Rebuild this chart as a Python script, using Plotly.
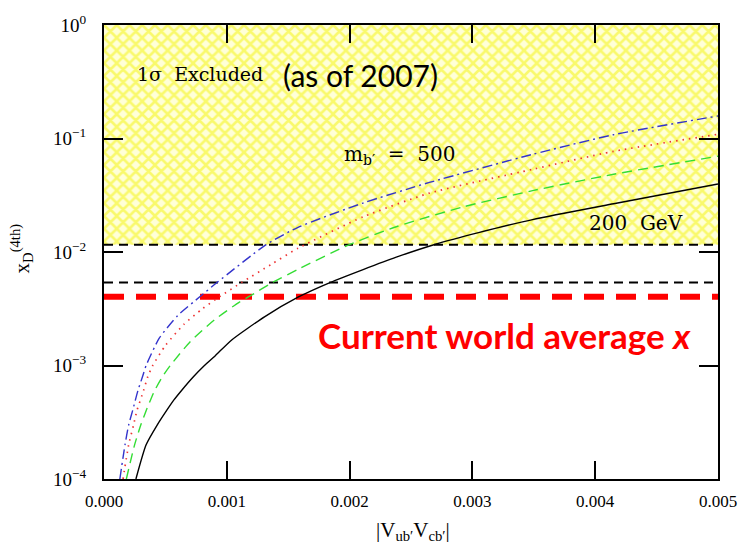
import math
import plotly.graph_objects as go

# |V_ub' V_cb'| values and x_D^(4th) for the four b' masses
x_200 = [0.00026, 0.000343, 0.000434, 0.000509, 0.000571, 0.00063, 0.00073, 0.000818, 0.000906,
         0.00104, 0.00131, 0.00158, 0.00184, 0.00211, 0.00238, 0.0027, 0.00305, 0.00349,
         0.00415, 0.005]
y_200 = [1.0e-4, 2.0e-4, 3.0e-4, 4.0e-4, 5.0e-4, 6.0e-4, 8.0e-4, 1.0e-3, 1.22e-3,
         1.68e-3, 2.7e-3, 4.0e-3, 5.38e-3, 7.0e-3, 9.0e-3, 0.0117, 0.0148, 0.0193,
         0.0266, 0.0397]

x_300 = [0.000182, 0.000249, 0.0003, 0.000343, 0.00038, 0.000412, 0.000477, 0.00054, 0.0007,
         0.0009, 0.0011, 0.00119, 0.00136, 0.00158, 0.00198, 0.00238, 0.00292, 0.00349,
         0.00415, 0.005]
y_300 = [1.0e-4, 2.0e-4, 3.0e-4, 4.0e-4, 5.0e-4, 6.0e-4, 8.0e-4, 1.0e-3, 1.61e-3,
         2.53e-3, 3.6e-3, 4.1e-3, 5.3e-3, 7.03e-3, 0.0114, 0.0167, 0.0249, 0.0347,
         0.0484, 0.0698]

x_400 = [0.000155, 0.000201, 0.000241, 0.000268, 0.000322, 0.000357, 0.000397, 0.0005, 0.00065,
         0.0008, 0.00095, 0.00112, 0.00136, 0.00158, 0.00211, 0.00265, 0.00349, 0.00415, 0.005]
y_400 = [1.0e-4, 2.0e-4, 3.0e-4, 4.0e-4, 6.0e-4, 8.0e-4, 1.0e-3, 1.5e-3, 2.3e-3,
         3.15e-3, 4.1e-3, 5.38e-3, 7.76e-3, 0.0108, 0.0204, 0.0330, 0.0535, 0.077, 0.109]

x_500 = [0.000129, 0.000171, 0.000201, 0.000233, 0.000276, 0.000314, 0.000343, 0.00045, 0.0006,
         0.00078, 0.00092, 0.00132, 0.00158, 0.00211, 0.00265, 0.00349, 0.00415, 0.005]
y_500 = [1.0e-4, 2.0e-4, 3.0e-4, 4.0e-4, 6.0e-4, 8.0e-4, 1.0e-3, 1.74e-3, 2.75e-3,
         4.03e-3, 5.38e-3, 0.0116, 0.0165, 0.027, 0.041, 0.0725, 0.108, 0.158]

# 1 sigma excluded band and reference levels
excluded_lo = 0.0116
excluded_hi = 1.0
x_range = [0.0, 0.005]
y_log_range = [-4, 0]
bound_2007 = 0.00538
world_avg = 0.00403

x_tickvals = [0.0, 0.001, 0.002, 0.003, 0.004, 0.005]
x_ticktext = ["0.000", "0.001", "0.002", "0.003", "0.004", "0.005"]
x_minor = [i * 0.0002 for i in range(26) if i % 5]
y_decades = [-4, -3, -2, -1, 0]
y_tickvals = [10.0 ** d for d in y_decades]
y_ticktext = ["10<sup>\u22124</sup>", "10<sup>\u22123</sup>", "10<sup>\u22122</sup>",
              "10<sup>\u22121</sup>", "10<sup>0</sup>"]
# minor ticks at 2..9 within each decade
y_minor = [m * 10.0 ** d for d in y_decades[:-1] for m in range(2, 10)]

SERIF = "Liberation Serif"
SERIF_WIDE = "DejaVu Serif"
SANS = "Lato"

W, H = 749, 548
MARGIN = dict(l=104, r=22, t=18, b=69)

fig = go.Figure()

# hatched exclusion region
fig.add_trace(go.Scatter(
    x=[x_range[0], x_range[1], x_range[1], x_range[0], x_range[0]],
    y=[excluded_lo, excluded_lo, excluded_hi, excluded_hi, excluded_lo],
    mode="none", fill="toself",
    fillcolor="rgba(255,255,255,0)",
    fillpattern=dict(shape="x", fgcolor="#f4f400", bgcolor="#ffffd8",
                     size=9, solidity=0.5),
    hoverinfo="skip", showlegend=False,
))

# horizontal reference lines
for level in (excluded_lo, bound_2007):
    fig.add_trace(go.Scatter(x=x_range, y=[level, level], mode="lines",
                             line=dict(color="black", width=2, dash="9px,6px"),
                             hoverinfo="skip", showlegend=False))
fig.add_trace(go.Scatter(x=x_range, y=[world_avg, world_avg], mode="lines",
                         line=dict(color="#ff0000", width=6, dash="20px,12px"),
                         hoverinfo="skip", showlegend=False))

# mass curves
curve_style = dict(mode="lines", line_shape="spline", showlegend=False)
fig.add_trace(go.Scatter(x=x_200, y=y_200, line=dict(color="black", width=1.4, smoothing=0.6),
                         **curve_style))
fig.add_trace(go.Scatter(x=x_300, y=y_300,
                         line=dict(color="#33dd33", width=1.4, dash="10px,6px", smoothing=0.6),
                         **curve_style))
fig.add_trace(go.Scatter(x=x_400, y=y_400,
                         line=dict(color="#ee3333", width=1.7, dash="1.5px,5px", smoothing=0.6),
                         **curve_style))
fig.add_trace(go.Scatter(x=x_500, y=y_500,
                         line=dict(color="#3333cc", width=1.4, dash="10px,4px,2px,4px",
                                   smoothing=0.6),
                         **curve_style))


# inward tick marks on all four sides, as pixel-sized shapes anchored at tick values
def x_ticks(vals, length_px, width):
    out = []
    for v in vals:
        for anchor, sign in ((y_log_range[0], 1), (y_log_range[1], -1)):
            out.append(dict(type="line", xref="x", yref="y", x0=v, x1=v,
                            ysizemode="pixel", yanchor=anchor, y0=0, y1=sign * length_px,
                            line=dict(color="black", width=width), layer="above"))
    return out


def y_ticks(vals, length_px, width):
    out = []
    for v in vals:
        for anchor, sign in ((x_range[0], 1), (x_range[1], -1)):
            out.append(dict(type="line", xref="x", yref="y", y0=math.log10(v),
                            y1=math.log10(v), xsizemode="pixel", xanchor=anchor,
                            x0=0, x1=sign * length_px,
                            line=dict(color="black", width=width), layer="above"))
    return out


tick_shapes = (x_ticks(x_tickvals, 18, 1.6) + x_ticks(x_minor, 8, 1.2)
               + y_ticks(y_tickvals, 19, 1.6) + y_ticks(y_minor, 9, 1.2))

axis_common = dict(showgrid=False, zeroline=False, showline=True, linecolor="black",
                   linewidth=2, mirror="ticks", ticks="inside", tickcolor="black",
                   tickwidth=1.6, tickmode="array")

fig.update_xaxes(range=x_range, tickvals=x_tickvals, ticktext=x_ticktext, ticklen=18,
                 ticklabelstandoff=6,
                 tickfont=dict(family=SERIF, size=17, color="black"), **axis_common)
fig.update_yaxes(type="log", range=y_log_range, tickvals=y_tickvals, ticktext=y_ticktext,
                 ticklen=19, ticklabelstandoff=12,
                 tickfont=dict(family=SERIF, size=19, color="black"), **axis_common)


def ly(v):
    # annotation positions on a log axis are given in log10 units
    return math.log10(v)


annotations = [
    dict(x=0.000249, y=ly(0.371), xref="x", yref="y", xanchor="left", yanchor="middle",
         text="1\u03c3  Excluded", font=dict(family=SERIF_WIDE, size=19, color="black"),
         showarrow=False),
    dict(x=0.00144, y=ly(0.364), xref="x", yref="y", xanchor="left", yanchor="middle",
         text="(as of 2007)", font=dict(family=SANS, size=30, color="black"),
         showarrow=False),
    dict(x=0.00194, y=ly(0.0722), xref="x", yref="y", xanchor="left", yanchor="middle",
         text="m<sub>b\u2032</sub>  =  500", font=dict(family=SERIF_WIDE, size=20, color="black"),
         showarrow=False),
    dict(x=0.00393, y=ly(0.01785), xref="x", yref="y", xanchor="left", yanchor="middle",
         text="200  GeV", font=dict(family=SERIF_WIDE, size=20, color="black"),
         showarrow=False),
    dict(x=0.00173, y=ly(0.00187), xref="x", yref="y", xanchor="left", yanchor="middle",
         text="<b>Current world average <i>x</i></b>",
         font=dict(family=SANS, size=35, color="#ff0000"), showarrow=False),
    dict(x=0.504, y=-0.115, xref="paper", yref="paper", xanchor="center", yanchor="middle",
         text="|V<sub>ub\u2032</sub>V<sub>cb\u2032</sub>|",
         font=dict(family=SERIF, size=21, color="black"), showarrow=False),
    dict(x=-0.135, y=0.508, xref="paper", yref="paper", xanchor="center", yanchor="middle",
         text="x<sub>D</sub><sup>(4th)</sup>", textangle=-90,
         font=dict(family=SERIF, size=21, color="black"), showarrow=False),
]

fig.update_layout(
    width=W, height=H,
    margin=MARGIN,
    paper_bgcolor="white", plot_bgcolor="white",
    annotations=annotations,
    shapes=tick_shapes,
    showlegend=False,
)

fig.write_html("out.html")
